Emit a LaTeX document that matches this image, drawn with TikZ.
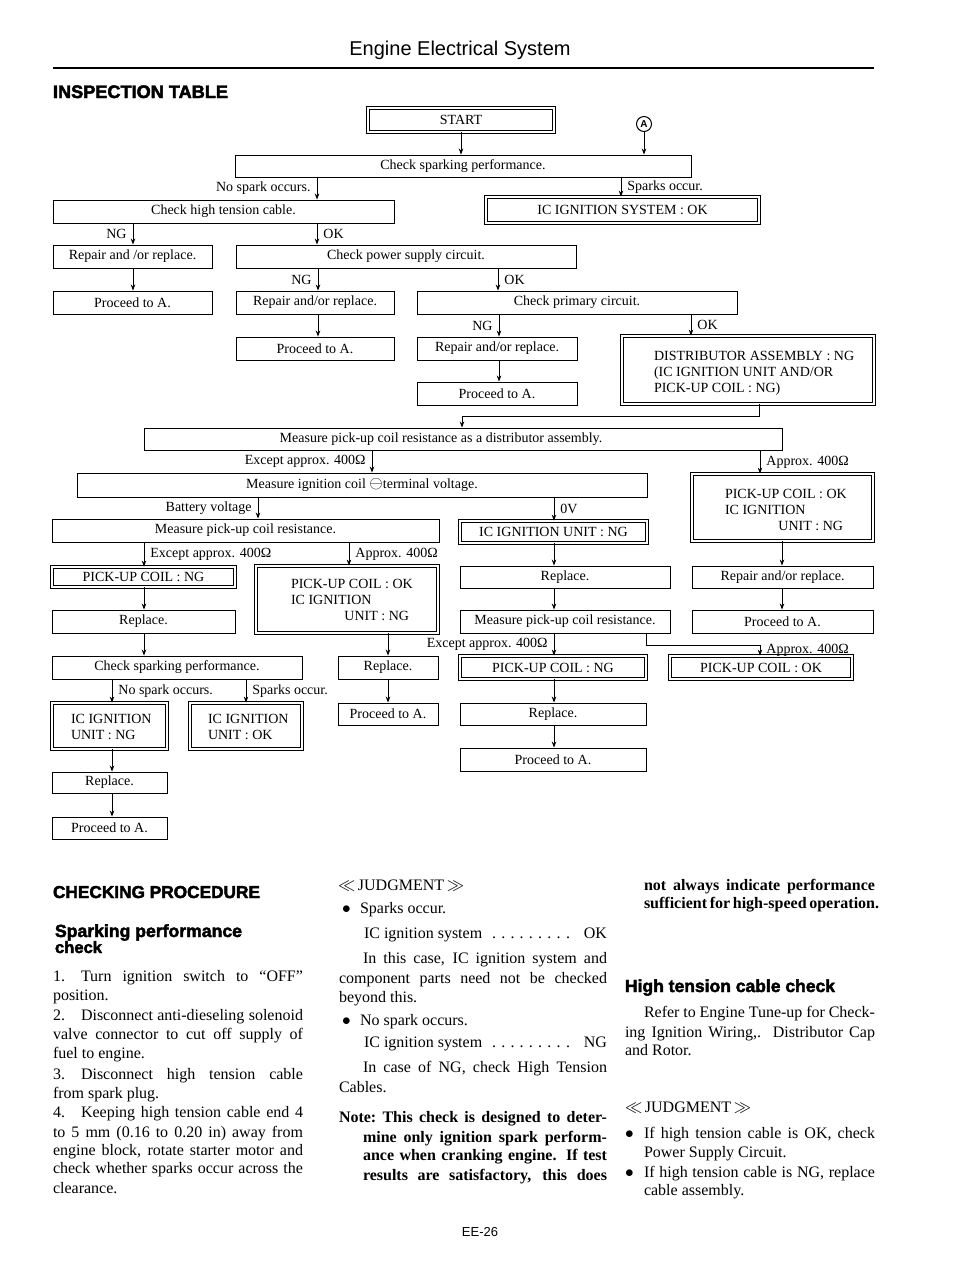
\documentclass[tikz,border=0pt]{standalone}
\usepackage{fontspec}
\usepackage{graphicx}
\setmainfont{Liberation Serif}
\newfontfamily\hsans{Liberation Sans}
\newfontfamily\hblack[FakeBold=2.5]{Liberation Sans Bold}
\usetikzlibrary{arrows.meta}
\newcommand{\flowfont}{\fontsize{14}{16}\selectfont}
\newcommand{\bodyfont}{\fontsize{16}{19}\selectfont}
\newcounter{tln}
\newcommand{\bx}[7][box]{\node[#1, minimum width={(#5-#3)*1pt}, minimum height={(#6-#4)*1pt}] (#2) at ({(#3+#5)/2},{(#4+#6)/2}) {#7};}
\newcommand{\bodyjust}[5][\bodyfont]{\stepcounter{tln}\node[txt, anchor=base west] (t\arabic{tln}) at (#2,#3) {#1\makebox[#4pt][s]{#5}};}
\newcommand{\bodyleft}[4][\bodyfont]{\stepcounter{tln}\node[txt, anchor=base west] (t\arabic{tln}) at (#2,#3) {#1#4};}
\newcommand{\bodyright}[4][\bodyfont]{\stepcounter{tln}\node[txt, anchor=base east] (t\arabic{tln}) at (#2,#3) {#1#4};}
\begin{document}
\begin{tikzpicture}[x=1pt,y=-1pt,
  box/.style={draw, line width=0.9pt, inner sep=0pt, font=\flowfont},
  dbox/.style={box, double, double distance=1.5pt, line width=0.8pt},
  arr/.style={line width=0.8pt, -{Stealth[length=6pt,width=4.5pt]}},
  lab/.style={font=\flowfont, inner xsep=6pt, inner ysep=1pt},
  txt/.style={inner sep=0pt, outer sep=0pt}]
\fill[white] (0,0) rectangle (960,1275);
\useasboundingbox (0,0) rectangle (960,1275);

% header
\node[txt, font=\hsans\fontsize{20}{20}\selectfont] (hdr) at (460,50) {Engine Electrical System};
\draw[line width=1.4pt] (53,68) -- (874,68);
\node[txt, anchor=base west] (itab) at (53,98) {\resizebox{175pt}{!}{\hblack INSPECTION TABLE}};

% flowchart boxes
\bx[dbox]{start}{368}{108}{554}{132}{START}
\node[circle, draw, line width=1pt, minimum size=15pt, inner sep=0pt, font=\hsans\bfseries\fontsize{10}{10}\selectfont] (cA) at (644,124) {A};
\bx{csp}{235}{155}{691}{177}{Check sparking performance.}
\bx{htc}{53}{200}{394}{223}{Check high tension cable.}
\bx[dbox]{icsok}{486}{197}{759}{223}{IC IGNITION SYSTEM : OK}
\bx{rep1}{53}{245}{212}{268}{Repair and /or replace.}
\bx{psc}{236}{245}{576}{268}{Check power supply circuit.}
\bx{pro1}{53}{291}{212}{314}{Proceed to A.}
\bx{rep2}{236}{291}{394}{314}{Repair and/or replace.}
\bx{pcc}{417}{291}{737}{314}{Check primary circuit.}
\bx{pro2}{236}{337}{394}{360}{Proceed to A.}
\bx{rep3}{417}{337}{577}{360}{Repair and/or replace.}
\bx[dbox]{dist}{622}{336}{874}{404}{}
\bodyleft[\flowfont]{654}{360}{DISTRIBUTOR ASSEMBLY : NG}
\bodyleft[\flowfont]{654}{376}{(IC IGNITION UNIT AND/OR}
\bodyleft[\flowfont]{654}{392}{PICK-UP COIL : NG)}
\bx{pro3}{417}{382}{577}{405}{Proceed to A.}
\bx{mpcd}{144}{428}{782}{450}{\hspace*{-44pt}Measure pick-up coil resistance as a distributor assembly.}
\bx{migc}{77}{473}{647}{497}{Measure ignition coil {\fontsize{17}{17}\selectfont$\ominus$}terminal voltage.}
\bx[dbox]{pcok1}{692}{474}{873}{541}{}
\bodyleft[\flowfont]{725}{498}{PICK-UP COIL : OK}
\bodyleft[\flowfont]{725}{514}{IC IGNITION}
\bodyright[\flowfont]{843}{530}{UNIT : NG}
\bx{mpc1}{52}{519}{439}{542}{Measure pick-up coil resistance.}
\bx[dbox]{icnng}{460}{521}{647}{543}{IC IGNITION UNIT : NG}
\bx[dbox]{pcng1}{52}{567}{235}{587}{PICK-UP COIL : NG}
\bx[dbox]{pcok2}{256}{566}{438}{633}{}
\bodyleft[\flowfont]{291}{588}{PICK-UP COIL : OK}
\bodyleft[\flowfont]{291}{604}{IC IGNITION}
\bodyright[\flowfont]{409}{620}{UNIT : NG}
\bx{repl1}{460}{566}{670}{588}{Replace.}
\bx{rep4}{692}{566}{873}{588}{Repair and/or replace.}
\bx{repl2}{52}{610}{235}{633}{Replace.}
\bx{mpc2}{460}{610}{670}{633}{Measure pick-up coil resistance.}
\bx{pro4}{692}{610}{873}{633}{Proceed to A.}
\bx{csp2}{52}{656}{302}{679}{Check sparking performance.}
\bx{repl3}{338}{656}{438}{679}{Replace.}
\bx[dbox]{pcng2}{460}{656}{646}{679}{PICK-UP COIL : NG}
\bx[dbox]{pcok3}{670}{656}{852}{679}{PICK-UP COIL : OK}
\bx[dbox]{icng2}{52}{703}{167}{749}{}
\bodyleft[\flowfont]{71}{723}{IC IGNITION}
\bodyleft[\flowfont]{71}{739}{UNIT : NG}
\bx[dbox]{icok}{190}{703}{302}{749}{}
\bodyleft[\flowfont]{208}{723}{IC IGNITION}
\bodyleft[\flowfont]{208}{739}{UNIT : OK}
\bx{pro5}{338}{703}{438}{725}{Proceed to A.}
\bx{repl4}{460}{703}{646}{725}{Replace.}
\bx{repl5}{52}{772}{167}{793}{Replace.}
\bx{pro6}{460}{748}{646}{771}{Proceed to A.}
\bx{pro7}{52}{817}{167}{839}{Proceed to A.}

% connectors
\draw[arr] (start.south -| 461,0) -- (csp.north -| 461,0);
\draw[arr] (cA.south) -- (csp.north -| 644,0);
\draw[arr] (csp.south -| 317,0) -- node[lab,left]{No spark occurs.} (htc.north -| 317,0);
\draw[arr] (csp.south -| 621,0) -- node[lab,right]{Sparks occur.} (icsok.north -| 621,0);
\draw[arr] (htc.south -| 133,0) -- node[lab,left]{NG} (rep1.north -| 133,0);
\draw[arr] (htc.south -| 317,0) -- node[lab,right]{OK} (psc.north -| 317,0);
\draw[arr] (rep1.south -| 133,0) -- (pro1.north -| 133,0);
\draw[arr] (psc.south -| 318,0) -- node[lab,left]{NG} (rep2.north -| 318,0);
\draw[arr] (psc.south -| 498,0) -- node[lab,right]{OK} (pcc.north -| 498,0);
\draw[arr] (rep2.south -| 318,0) -- (pro2.north -| 318,0);
\draw[arr] (pcc.south -| 499,0) -- node[lab,left]{NG} (rep3.north -| 499,0);
\draw[arr] (pcc.south -| 691,0) -- node[lab,right]{OK} (dist.north -| 691,0);
\draw[arr] (rep3.south -| 499,0) -- (pro3.north -| 499,0);
\coordinate (dbend) at (759,416);
\draw[arr] (dist.south -| dbend) -- (dbend) -| (mpcd.north -| 462,0);
\draw[arr] (mpcd.south -| 372,0) -- node[lab,left]{Except approx. 400Ω} (migc.north -| 372,0);
\draw[arr] (mpcd.south -| 760,0) -- node[lab,right]{Approx. 400Ω} (pcok1.north -| 760,0);
\draw[arr] (migc.south -| 258,0) -- node[lab,left]{Battery voltage} (mpc1.north -| 258,0);
\draw[arr] (migc.south -| 554,0) -- node[lab,right]{0V} (icnng.north -| 554,0);
\draw[arr] (mpc1.south -| 144,0) -- node[lab,right]{Except approx. 400Ω} (pcng1.north -| 144,0);
\draw[arr] (mpc1.south -| 349,0) -- node[lab,right]{Approx. 400Ω} (pcok2.north -| 349,0);
\draw[arr] (icnng.south -| 554,0) -- (repl1.north -| 554,0);
\draw[arr] (pcok1.south -| 782,0) -- (rep4.north -| 782,0);
\draw[arr] (pcng1.south -| 144,0) -- (repl2.north -| 144,0);
\draw[arr] (pcok2.south -| 388,0) -- (repl3.north -| 388,0);
\draw[arr] (repl1.south -| 554,0) -- (mpc2.north -| 554,0);
\draw[arr] (rep4.south -| 782,0) -- (pro4.north -| 782,0);
\draw[arr] (repl2.south -| 144,0) -- (csp2.north -| 144,0);
\draw[arr] (repl3.south -| 388,0) -- (pro5.north -| 388,0);
\draw[arr] (mpc2.south -| 554,0) -- node[lab,left]{Except approx. 400Ω} (pcng2.north -| 554,0);
\coordinate (mbend) at (646,645);
\draw[arr] (mpc2.south -| mbend) -- (mbend) -| node[lab,right,pos=0.75]{Approx. 400Ω} (pcok3.north -| 760,0);
\draw[arr] (csp2.south -| 112,0) -- node[lab,right]{No spark occurs.} (icng2.north -| 112,0);
\draw[arr] (csp2.south -| 246,0) -- node[lab,right]{Sparks occur.} (icok.north -| 246,0);
\draw[arr] (pcng2.south -| 554,0) -- (repl4.north -| 554,0);
\draw[arr] (icng2.south -| 112,0) -- (repl5.north -| 112,0);
\draw[arr] (repl4.south -| 554,0) -- (pro6.north -| 554,0);
\draw[arr] (repl5.south -| 112,0) -- (pro7.north -| 112,0);

% column 1
\node[txt, anchor=base west] (h1) at (53,898) {\resizebox{207pt}{!}{\hblack CHECKING PROCEDURE}};
\node[txt, anchor=base west] (h2) at (55,937) {\resizebox{187pt}{!}{\hblack Sparking performance}};
\node[txt, anchor=base west] (h3) at (55,953) {\resizebox{47pt}{!}{\hblack check}};
\bodyjust{53}{981}{250}{1.\quad Turn ignition switch to ``OFF''}
\bodyleft{53}{1000}{position.}
\bodyjust{53}{1020}{250}{2.\quad Disconnect anti-dieseling solenoid}
\bodyjust{53}{1039}{250}{valve connector to cut off supply of}
\bodyleft{53}{1058}{fuel to engine.}
\bodyjust{53}{1079}{250}{3.\quad Disconnect high tension cable}
\bodyleft{53}{1098}{from spark plug.}
\bodyjust{53}{1117}{250}{4.\quad Keeping high tension cable end 4}
\bodyjust{53}{1137}{250}{to 5 mm (0.16 to 0.20 in) away from}
\bodyjust{53}{1155}{250}{engine block, rotate starter motor and}
\bodyjust{53}{1173}{250}{check whether sparks occur across the}
\bodyleft{53}{1193}{clearance.}

% column 2
\bodyleft{338}{890}{$\ll$\,JUDGMENT\,$\gg$}
\bodyleft{342}{913}{$\bullet$}
\bodyleft{360}{913}{Sparks occur.}
\bodyleft{364}{938}{IC ignition system}
\bodyjust{492}{938}{78}{. . . . . . . . .}
\bodyright{607}{938}{OK}
\bodyjust{363}{963}{244}{In this case, IC ignition system and}
\bodyjust{339}{983}{268}{component parts need not be checked}
\bodyleft{339}{1002}{beyond this.}
\bodyleft{342}{1025}{$\bullet$}
\bodyleft{360}{1025}{No spark occurs.}
\bodyleft{364}{1047}{IC ignition system}
\bodyjust{492}{1047}{78}{. . . . . . . . .}
\bodyright{607}{1047}{NG}
\bodyjust{363}{1072}{244}{In case of NG, check High Tension}
\bodyleft{339}{1092}{Cables.}
\bodyjust[\bodyfont\bfseries]{339}{1122}{268}{Note:\ This check is designed to deter-}
\bodyjust[\bodyfont\bfseries]{363}{1142}{244}{mine only ignition spark perform-}
\bodyjust[\bodyfont\bfseries]{363}{1160}{244}{ance when cranking engine. If test}
\bodyjust[\bodyfont\bfseries]{363}{1180}{244}{results are satisfactory, this does}
\node[txt, font=\hsans\fontsize{13}{13}\selectfont] (pg) at (480,1232) {EE-26};

% column 3
\bodyjust[\bodyfont\bfseries]{644}{890}{231}{not always indicate performance}
\bodyjust[\bodyfont\bfseries]{644}{908}{231}{sufficient for high-speed operation.}
\node[txt, anchor=base west] (h4) at (625,992) {\resizebox{210pt}{!}{\hblack High tension cable check}};
\bodyjust{644}{1017}{231}{Refer to Engine Tune-up for Check-}
\bodyjust{625}{1037}{250}{ing Ignition Wiring,. Distributor Cap}
\bodyleft{625}{1055}{and Rotor.}
\bodyleft{625}{1112}{$\ll$\,JUDGMENT\,$\gg$}
\bodyleft{625}{1138}{$\bullet$}
\bodyjust{644}{1138}{231}{If high tension cable is OK, check}
\bodyleft{644}{1157}{Power Supply Circuit.}
\bodyleft{625}{1177}{$\bullet$}
\bodyjust{644}{1177}{231}{If high tension cable is NG, replace}
\bodyleft{644}{1195}{cable assembly.}
\end{tikzpicture}
\end{document}
